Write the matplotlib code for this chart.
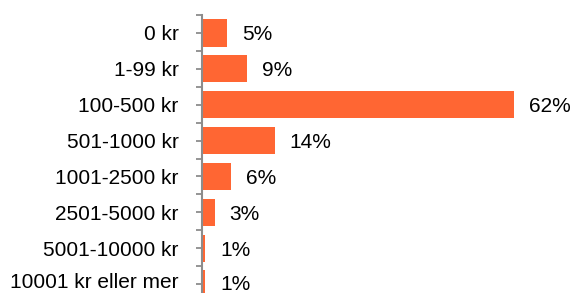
import matplotlib.pyplot as plt
import matplotlib.transforms as mtransforms
from matplotlib.ticker import FixedLocator

# === DATA ===
categories = ['0 kr', '1-99 kr', '100-500 kr', '501-1000 kr', '1001-2500 kr',
              '2501-5000 kr', '5001-10000 kr', '10001 kr eller mer']
shares = [5.0, 9.0, 62.1, 14.5, 5.7, 2.5, 0.6, 0.6]
share_labels = ['5%', '9%', '62%', '14%', '6%', '3%', '1%', '1%']

# === STYLE ===
BAR_COLOR = '#FF6633'
AXIS_COLOR = '#8C8C8C'
plt.rcParams['font.family'] = ['Liberation Sans', 'DejaVu Sans']

W, H = 575, 293
fig = plt.figure(figsize=(W / 100, H / 100), dpi=100)
# axes top at 15px, bottom runs off the figure (clipped like the reference)
top_px, bot_px, left_px = 15.0, 302.0, 202.0
ax = fig.add_axes([left_px / W, 1 - bot_px / H, (W - left_px) / W, (bot_px - top_px) / H])

y = list(range(len(categories)))
ax.barh(y, shares, height=0.76, color=BAR_COLOR, edgecolor='none')

n = len(categories)
for yi, v, lab in zip(y, shares, share_labels):
    dy = 2 if yi == n - 1 else 0   # keep the bottom label inside the picture
    ax.annotate(lab, (v, yi), xytext=(15, dy), textcoords='offset pixels',
                ha='left', va='center_baseline', fontsize=15, color='black')

ax.set_xlim(0, (W - left_px) / 5.02)
ax.set_ylim(n - 0.5, -0.5)

# category ticks at centers, separator ticks at boundaries
ax.yaxis.set_major_locator(FixedLocator(y))
ax.set_yticklabels(categories, fontsize=15)
ax.yaxis.set_minor_locator(FixedLocator([i - 0.5 for i in range(n + 1)]))
ax.tick_params(axis='y', which='both', length=4, width=1.3, color=AXIS_COLOR,
               direction='out', pad=13)

# last label is nudged up so it stays inside the picture
last = ax.get_yticklabels()[-1]
last.set_transform(last.get_transform() +
                   mtransforms.ScaledTranslation(0, 4 / 100, fig.dpi_scale_trans))

for side in ['top', 'right', 'bottom']:
    ax.spines[side].set_visible(False)
ax.spines['left'].set_color(AXIS_COLOR)
ax.spines['left'].set_linewidth(1.5)
ax.set_xticks([])

fig.savefig('out.png', dpi=100)
